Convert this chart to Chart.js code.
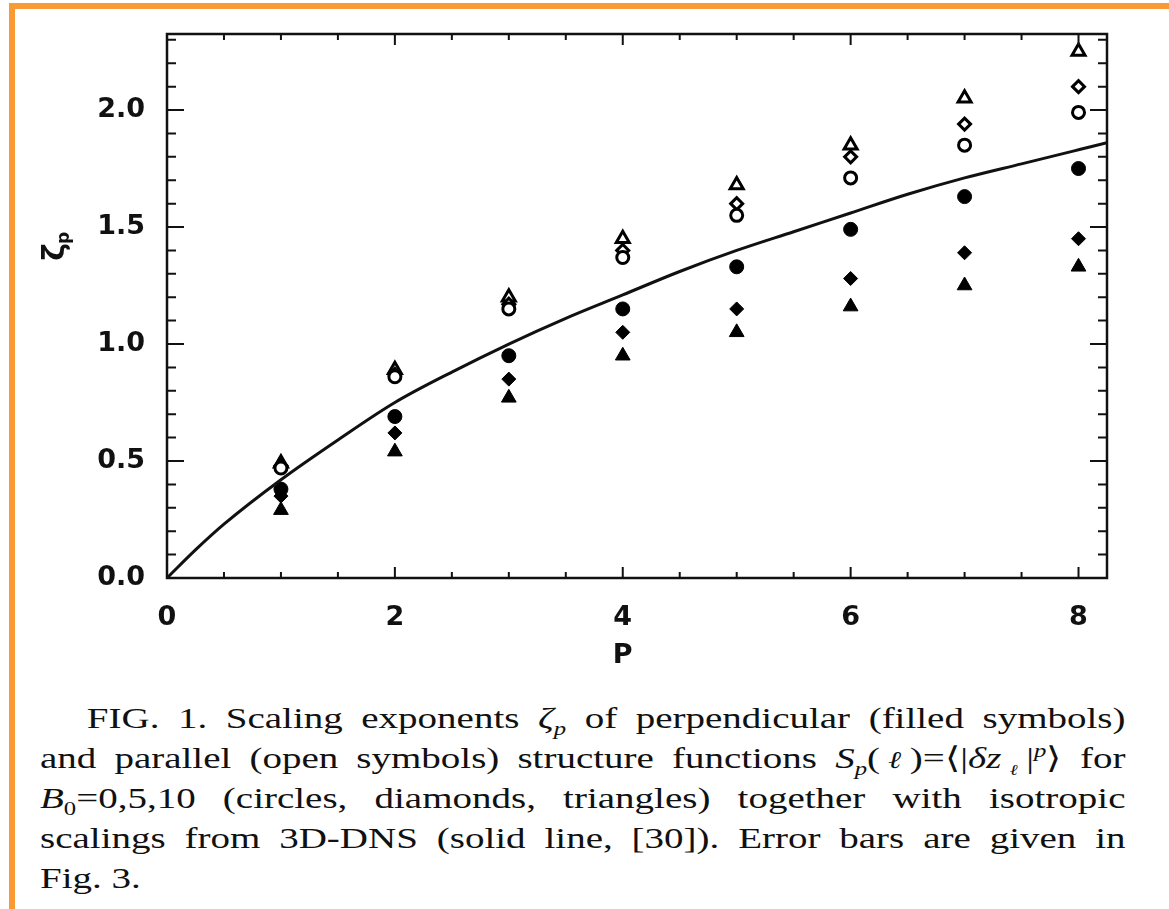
<!DOCTYPE html>
<html>
<head>
<meta charset="utf-8">
<script src="https://cdn.jsdelivr.net/npm/chart.js@4"></script>
<style>
    html, body { margin:0; padding:0; background:#fff; }
    #page { position:relative; width:1169px; height:909px; overflow:hidden; background:#fff; }
    #bar_top { position:absolute; left:9px; top:3px; width:1160px; height:6px; background:#fa9a35; }
    #bar_left { position:absolute; left:9px; top:3px; width:6px; height:906px; background:#fa9a35; }
    #id_chart { position:absolute; left:0; top:0; }
    #caption {
        position:absolute; left:40px; top:698px;
        width:835px;
        transform:scaleX(1.3); transform-origin:left top;
        font-family:"Liberation Serif", "Times New Roman", serif;
        font-size:30px; color:#111;
    }
    #caption div { height:40px; line-height:40px; white-space:nowrap; text-align:justify; text-align-last:justify; }
    #caption div.first { text-indent:36px; }
    #caption div.last { text-align-last:left; }
    #caption sub, #caption sup { font-size:19px; line-height:0; }
    #caption .ell { font-family:"DejaVu Serif", serif; font-size:24px; font-style:italic; }
    #caption sub .ell { font-size:15px; }
</style>
</head>
<body>
<div id="page">
    <canvas id="id_chart" width="1169" height="690"></canvas>
    <div id="bar_top"></div>
    <div id="bar_left"></div>
    <div id="caption">
        <div class="first">FIG. 1. Scaling exponents <i>ζ<sub>p</sub></i> of perpendicular (filled symbols)</div>
        <div>and parallel (open symbols) structure functions <i>S<sub>p</sub></i>(<span class="ell">ℓ</span>)=⟨|<i>δz</i><sub><span class="ell">ℓ</span></sub>|<sup><i>p</i></sup>⟩ for</div>
        <div><i>B</i><sub>0</sub>=0,5,10 (circles, diamonds, triangles) together with isotropic</div>
        <div>scalings from 3D-DNS (solid line, [30]). Error bars are given in</div>
        <div class="last">Fig. 3.</div>
    </div>
</div>
<script>
// order p of the structure function
var P_VALUES = [1, 2, 3, 4, 5, 6, 7, 8];

// perpendicular (filled symbols)
var PERP_CIRCLE   = [0.38, 0.69, 0.95, 1.15, 1.33, 1.49, 1.63, 1.75];
var PERP_DIAMOND  = [0.35, 0.62, 0.85, 1.05, 1.15, 1.28, 1.39, 1.45];
var PERP_TRIANGLE = [0.29, 0.54, 0.77, 0.95, 1.05, 1.16, 1.25, 1.33];

// parallel (open symbols)
var PAR_CIRCLE   = [0.47, 0.86, 1.15, 1.37, 1.55, 1.71, 1.85, 1.99];
var PAR_DIAMOND  = [0.48, 0.87, 1.17, 1.40, 1.60, 1.80, 1.94, 2.10];
var PAR_TRIANGLE = [0.49, 0.89, 1.20, 1.45, 1.68, 1.85, 2.05, 2.25];

// isotropic 3D-DNS curve
var LINE_P    = [0, 0.25, 0.5, 1, 1.5, 2, 2.5, 3, 3.5, 4, 4.5, 5, 5.5, 6, 6.5, 7, 7.5, 8, 8.25];
var LINE_ZETA = [0, 0.12, 0.23, 0.42, 0.59, 0.75, 0.88, 1.0, 1.11, 1.21, 1.31, 1.40, 1.48, 1.56, 1.64, 1.71, 1.77, 1.83, 1.86];

var X_TICKS = [0, 2, 4, 6, 8];
var Y_TICKS = [0, 0.5, 1.0, 1.5, 2.0];

var TICK_FONT = { family: "'DejaVu Sans', sans-serif", size: 27, weight: "bold" };

var _toPoints = function( xs, ys ){
    var pts = [], i;
    for( i = 0; i < xs.length; i++ ){
        pts.push({ x : xs[i], y : ys[i] });
    }
    return pts;
};

var _marker = function( label, values, style, radius, filled ){
    return {
        label : label,
        data : _toPoints( P_VALUES, values ),
        showLine : false,
        pointStyle : style,
        pointRadius : radius,
        pointBorderWidth : filled ? 1 : 3,
        pointBorderColor : "#000",
        pointBackgroundColor : filled ? "#000" : "#fff"
    };
};

// frame and inward ticks on all four sides, plus the axis titles
var framePlugin = {
    id : "frame",
    afterDatasetsDraw : function( chart ){
        var ctx = chart.ctx, a = chart.chartArea;
        var sx = chart.scales.x, sy = chart.scales.y;
        var v, px, len;
        ctx.save();
        ctx.strokeStyle = "#111";
        ctx.lineWidth = 2.5;
        ctx.strokeRect( a.left, a.top, a.right - a.left, a.bottom - a.top );
        ctx.lineWidth = 2;
        ctx.beginPath();
        for( v = 0.5; v < sx.max; v += 0.5 ){
            px = sx.getPixelForValue( v );
            len = ( X_TICKS.indexOf( v ) >= 0 ) ? 11 : 6;
            ctx.moveTo( px, a.bottom ); ctx.lineTo( px, a.bottom - len );
            ctx.moveTo( px, a.top ); ctx.lineTo( px, a.top + len );
        }
        for( v = 1; v <= 23; v++ ){
            px = sy.getPixelForValue( v / 10 );
            len = ( v % 5 === 0 ) ? 17 : 9;
            ctx.moveTo( a.left, px ); ctx.lineTo( a.left + len, px );
            ctx.moveTo( a.right, px ); ctx.lineTo( a.right - len, px );
        }
        ctx.stroke();

        ctx.fillStyle = "#111";
        ctx.textAlign = "center";
        ctx.textBaseline = "middle";
        ctx.font = "bold 27px 'DejaVu Sans', sans-serif";
        ctx.fillText( "P", sx.getPixelForValue( 4 ), 656 );

        ctx.translate( 56, 248 );
        ctx.rotate( -Math.PI / 2 );
        ctx.font = "bold 30px 'DejaVu Sans', sans-serif";
        ctx.fillText( "ζ", -4, 0 );
        ctx.font = "bold 17px 'DejaVu Sans', sans-serif";
        ctx.fillText( "p", 10, 9 );
        ctx.restore();
    }
};

window.onload = function(){
    var ctx = document.getElementById( "id_chart" ).getContext( "2d" );
    new Chart( ctx, {
        type : "scatter",
        data : {
            datasets : [
                {
                    label : "3D-DNS",
                    data : _toPoints( LINE_P, LINE_ZETA ),
                    showLine : true,
                    borderColor : "#111",
                    borderWidth : 3,
                    pointRadius : 0,
                    cubicInterpolationMode : "monotone"
                },
                _marker( "perp B0=0", PERP_CIRCLE, "circle", 7, true ),
                _marker( "perp B0=5", PERP_DIAMOND, "rectRot", 7, true ),
                _marker( "perp B0=10", PERP_TRIANGLE, "triangle", 8.5, true ),
                _marker( "par B0=0", PAR_CIRCLE, "circle", 6, false ),
                _marker( "par B0=5", PAR_DIAMOND, "rectRot", 6, false ),
                _marker( "par B0=10", PAR_TRIANGLE, "triangle", 7.5, false )
            ]
        },
        options : {
            responsive : false,
            animation : false,
            devicePixelRatio : 1,
            layout : { padding : { top : 34, right : 62, left : 0, bottom : 0 } },
            plugins : {
                legend : { display : false },
                tooltip : { enabled : false }
            },
            scales : {
                x : {
                    type : "linear",
                    min : 0,
                    max : 8.25,
                    grid : { display : false },
                    border : { display : false },
                    afterBuildTicks : function( s ){
                        s.ticks = X_TICKS.map( function( v ){ return { value : v }; } );
                    },
                    ticks : { color : "#111", font : TICK_FONT, padding : 16, maxRotation : 0 },
                    afterFit : function( s ){ s.height = 112; }
                },
                y : {
                    type : "linear",
                    min : 0,
                    max : 2.325,
                    grid : { display : false },
                    border : { display : false },
                    afterBuildTicks : function( s ){
                        s.ticks = Y_TICKS.map( function( v ){ return { value : v }; } );
                    },
                    ticks : {
                        color : "#111", font : TICK_FONT, padding : 14,
                        callback : function( v ){ return Number( v ).toFixed( 1 ); }
                    },
                    afterFit : function( s ){ s.width = 167; }
                }
            }
        },
        plugins : [ framePlugin ]
    });
};
</script>
</body>
</html>
